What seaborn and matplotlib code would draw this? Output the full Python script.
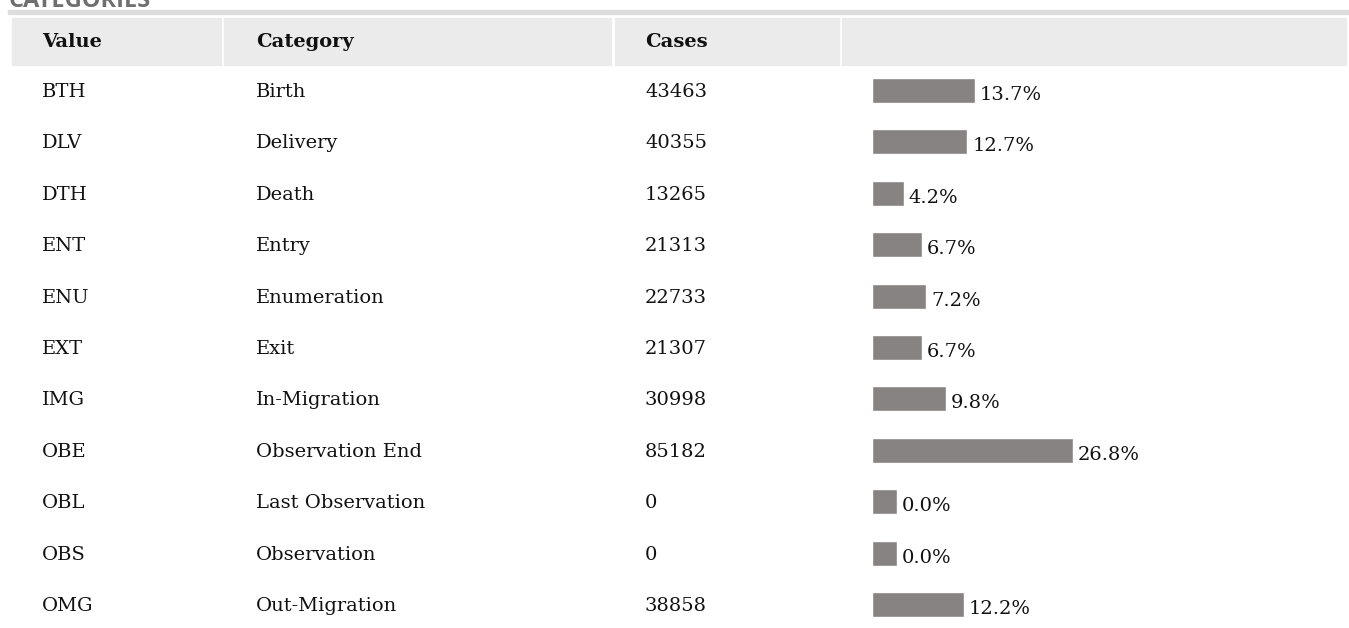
import matplotlib
matplotlib.use("Agg")
import matplotlib.pyplot as plt
import matplotlib.transforms as mtransforms
from matplotlib.patches import Rectangle
import seaborn as sns
import pandas as pd

# ---- data ----
codes = ["BTH", "DLV", "DTH", "ENT", "ENU", "EXT", "IMG", "OBE", "OBL", "OBS", "OMG"]
categories = ["Birth", "Delivery", "Death", "Entry", "Enumeration", "Exit",
              "In-Migration", "Observation End", "Last Observation", "Observation",
              "Out-Migration"]
cases = [43463, 40355, 13265, 21313, 22733, 21307, 30998, 85182, 0, 0, 38858]
percents = [13.7, 12.7, 4.2, 6.7, 7.2, 6.7, 9.8, 26.8, 0.0, 0.0, 12.2]
headers = ["Value", "Category", "Cases", ""]
title = "CATEGORIES"

# ---- layout (pixels) ----
W, H = 1349, 628
DPI = 100
px_per_pct = 7.5
min_bar_px = 25
row0 = 90.5
row_step = 51.4
bar_h_px = 25

sns.set_theme(style="white")
plt.rcParams["font.family"] = ["DejaVu Serif"]

fig = plt.figure(figsize=(W / DPI, H / DPI), dpi=DPI)
fig.patch.set_facecolor("white")

def fx(x):
    return x / W

def fy(y):
    return 1 - y / H

# title (cut off at top) and rule
fig.text(fx(9), fy(7), title, fontsize=17, fontweight="bold", color="#6f6f6f",
         family="Open Sans", va="baseline", ha="left")
fig.patches.append(Rectangle((fx(8), fy(14)), fx(W) - fx(8), 4 / H,
                             transform=fig.transFigure, color="#dddddd", zorder=0))

# header cells
cells = [(12, 221), (224, 611), (615, 839), (842, 1346)]
text_x = [42, 256, 645, 872]
for (x0, x1) in cells:
    fig.patches.append(Rectangle((fx(x0), fy(65)), (x1 - x0) / W, 47 / H,
                                 transform=fig.transFigure, color="#ebebeb", zorder=0))
for tx, h in zip(text_x, headers):
    fig.text(fx(tx), fy(42), h, fontsize=14, fontweight="bold", color="#111111",
             va="center", ha="left")

# bar axes
ax_left, ax_top, ax_bottom = 872, 66, H
ax = fig.add_axes([fx(ax_left), 0, (W - ax_left) / W, fy(ax_top)])
ax.set_facecolor("none")

df = pd.DataFrame({"code": codes, "pct": percents})
df["disp"] = df["pct"].clip(lower=min_bar_px / px_per_pct)

sns.barplot(data=df, y="code", x="disp", orient="h", color="#878382",
            saturation=1, width=bar_h_px / row_step, ax=ax)
ax.set_xlim(0, (W - ax_left) / px_per_pct)
ax.set_ylim((ax_bottom - row0) / row_step, (ax_top - row0) / row_step)
ax.axis("off")

for i, (d, p) in enumerate(zip(df["disp"], percents)):
    ax.text(d + 5 / px_per_pct, i + 4.5 / row_step, f"{p:.1f}%", fontsize=14,
            color="#111111", va="center", ha="left")

tr = mtransforms.blended_transform_factory(fig.transFigure, ax.transData)
for i, (c, cat, n) in enumerate(zip(codes, categories, cases)):
    for tx, s in zip(text_x[:3], [c, cat, str(n)]):
        ax.text(fx(tx), i + 1.5 / row_step, s, transform=tr, fontsize=14,
                color="#111111", va="center", ha="left", clip_on=False)

fig.savefig("out.png", dpi=DPI, facecolor="white")
